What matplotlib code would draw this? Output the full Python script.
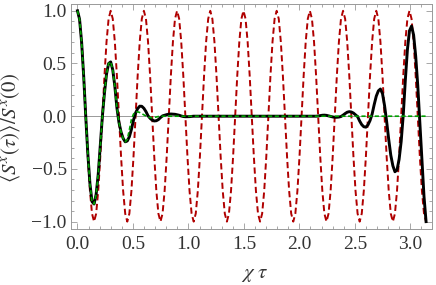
import numpy as np
import matplotlib
matplotlib.use("Agg")
import matplotlib.pyplot as plt
from matplotlib.ticker import MultipleLocator

plt.rcParams['font.family'] = ['Liberation Serif', 'DejaVu Serif']
plt.rcParams['mathtext.fontset'] = 'stix'

# sample grid: 0 .. pi, 168 steps
n_steps = 168
tau = np.linspace(0, np.pi, n_steps + 1)

# red dashed curve
red = [
    1.0, 0.924, 0.707, 0.383, 0.0, -0.383, -0.707, -0.924, -1.0, -0.924, -0.707, -0.383, 0.0, 0.383, 0.707, 0.924,
    1.0, 0.924, 0.707, 0.383, 0.0, -0.383, -0.707, -0.924, -1.0, -0.924, -0.707, -0.383, 0.0, 0.383, 0.707, 0.924,
    1.0, 0.924, 0.707, 0.383, 0.0, -0.383, -0.707, -0.924, -1.0, -0.924, -0.707, -0.383, 0.0, 0.383, 0.707, 0.924,
    1.0, 0.924, 0.707, 0.383, 0.0, -0.383, -0.707, -0.924, -1.0, -0.924, -0.707, -0.383, 0.0, 0.383, 0.707, 0.924,
    1.0, 0.924, 0.707, 0.383, 0.0, -0.383, -0.707, -0.924, -1.0, -0.924, -0.707, -0.383, 0.0, 0.383, 0.707, 0.924,
    1.0, 0.924, 0.707, 0.383, 0.0, -0.383, -0.707, -0.924, -1.0, -0.924, -0.707, -0.383, 0.0, 0.383, 0.707, 0.924,
    1.0, 0.924, 0.707, 0.383, 0.0, -0.383, -0.707, -0.924, -1.0, -0.924, -0.707, -0.383, 0.0, 0.383, 0.707, 0.924,
    1.0, 0.924, 0.707, 0.383, 0.0, -0.383, -0.707, -0.924, -1.0, -0.924, -0.707, -0.383, 0.0, 0.383, 0.707, 0.924,
    1.0, 0.924, 0.707, 0.383, 0.0, -0.383, -0.707, -0.924, -1.0, -0.924, -0.707, -0.383, 0.0, 0.383, 0.707, 0.924,
    1.0, 0.924, 0.707, 0.383, 0.0, -0.383, -0.707, -0.924, -1.0, -0.924, -0.707, -0.383, 0.0, 0.383, 0.707, 0.924,
    1.0, 0.924, 0.707, 0.383, 0.0, -0.383, -0.707, -0.924, -1.0,
]

# black solid curve
black = [
    1.0, 0.92, 0.70, 0.375, -0.01, -0.36, -0.64, -0.81, -0.833, -0.74, -0.55, -0.28,
    0.0, 0.22, 0.40, 0.50, 0.515, 0.44, 0.285, 0.08, -0.06, -0.15, -0.21, -0.243,
    -0.235, -0.195, -0.125, -0.037, 0.03, 0.072, 0.095, 0.094, 0.075, 0.044, 0.004, -0.02,
    -0.037, -0.045, -0.043, -0.032, -0.013, 0.003, 0.009, 0.015, 0.019, 0.021, 0.02, 0.018,
    0.014, 0.009, 0.002, -0.003, -0.005, -0.005, -0.004, -0.002,
    0.0, 0.0, 0.0, 0.0, 0.0, 0.0, 0.0, 0.0, 0.0, 0.0, 0.0, 0.0,
    0.0, 0.0, 0.0, 0.0, 0.0, 0.0, 0.0, 0.0, 0.0, 0.0, 0.0, 0.0,
    0.0, 0.0, 0.0, 0.0, 0.0, 0.0, 0.0, 0.0, 0.0, 0.0, 0.0, 0.0,
    0.0, 0.0, 0.0, 0.0, 0.0, 0.0, 0.0, 0.0, 0.0, 0.0, 0.0, 0.0,
    0.0, 0.0, 0.0, 0.0, 0.0, 0.0, 0.0, 0.0, 0.0, 0.0, 0.0, 0.0,
    0.002, 0.006, 0.009, 0.01, 0.008, 0.003, -0.003, -0.007, -0.01, -0.01,
    -0.008, -0.003, 0.01, 0.025, 0.038, 0.043, 0.04, 0.03, 0.013,
    -0.004, -0.046, -0.08, -0.10, -0.104, -0.083, -0.041,
    0.02, 0.11, 0.19, 0.24, 0.258, 0.215, 0.10,
    -0.05, -0.22, -0.37, -0.47, -0.527, -0.51, -0.41, -0.24,
    0.01, 0.34, 0.63, 0.81, 0.855, 0.77, 0.57, 0.29,
    -0.06, -0.42, -0.76, -1.0,
]

# green dashed curve
green = [
    1.0, 0.92, 0.70, 0.375, -0.01, -0.36, -0.64, -0.81, -0.833, -0.74, -0.55, -0.28,
    0.0, 0.22, 0.40, 0.50, 0.515, 0.44, 0.285, 0.08, -0.06, -0.15, -0.21, -0.243,
    -0.22, -0.13, -0.03, 0.02, 0.04, 0.042, 0.035, 0.024, 0.012, 0.002, -0.007, -0.013,
    -0.015, -0.012, -0.007, -0.003, 0.0,
    0.0, 0.0, 0.0, 0.0, 0.0, 0.0, 0.0, 0.0, 0.0, 0.0, 0.0, 0.0, 0.0, 0.0, 0.0, 0.0,
    0.0, 0.0, 0.0, 0.0, 0.0, 0.0, 0.0, 0.0, 0.0, 0.0, 0.0, 0.0, 0.0, 0.0, 0.0, 0.0,
    0.0, 0.0, 0.0, 0.0, 0.0, 0.0, 0.0, 0.0, 0.0, 0.0, 0.0, 0.0, 0.0, 0.0, 0.0, 0.0,
    0.0, 0.0, 0.0, 0.0, 0.0, 0.0, 0.0, 0.0, 0.0, 0.0, 0.0, 0.0, 0.0, 0.0, 0.0, 0.0,
    0.0, 0.0, 0.0, 0.0, 0.0, 0.0, 0.0, 0.0, 0.0, 0.0, 0.0, 0.0, 0.0, 0.0, 0.0, 0.0,
    0.0, 0.0, 0.0, 0.0, 0.0, 0.0, 0.0, 0.0, 0.0, 0.0, 0.0, 0.0, 0.0, 0.0, 0.0, 0.0,
    0.0, 0.0, 0.0, 0.0, 0.0, 0.0, 0.0, 0.0, 0.0, 0.0, 0.0, 0.0, 0.0, 0.0, 0.0, 0.0,
    0.0, 0.0, 0.0, 0.0, 0.0, 0.0, 0.0, 0.0, 0.0, 0.0, 0.0, 0.0, 0.0, 0.0, 0.0, 0.0,
]

fig = plt.figure(figsize=(4.36, 2.85), dpi=100)
ax = fig.add_axes([0.1628, 0.1965, 0.828, 0.7895])

ax.axhline(0, color='#999999', lw=0.7, zorder=1)

ax.plot(tau, red, color='#B00000', lw=1.4, dashes=(3.2, 1.8), zorder=2)
ax.plot(tau, black, color='black', lw=2.1, zorder=3)
ax.plot(tau, green, color='#00A000', lw=1.2, dashes=(2.5, 1.5), zorder=4)

ax.set_xlim(-0.0586, 3.195)
ax.set_ylim(-1.07, 1.0645)

ax.xaxis.set_major_locator(MultipleLocator(0.5))
ax.xaxis.set_minor_locator(MultipleLocator(0.1))
ax.yaxis.set_major_locator(MultipleLocator(0.5))
ax.yaxis.set_minor_locator(MultipleLocator(0.1))
ax.xaxis.set_major_formatter(plt.FormatStrFormatter('%.1f'))
ax.yaxis.set_major_formatter(plt.FuncFormatter(lambda v, p: ('%.1f' % v).replace('-', '\u2212')))

ax.tick_params(which='both', direction='in', top=True, right=True,
               color='#999999', width=0.6, labelsize=14, labelcolor='#333333')
ax.tick_params(which='major', length=4.5)
ax.tick_params(which='minor', length=2.5)
ax.tick_params(axis='x', pad=5)
ax.tick_params(axis='y', pad=3)
for s in ax.spines.values():
    s.set_color('#999999')
    s.set_linewidth(0.7)

ax.set_xlabel(r'$\chi\ \tau$', fontsize=15, color='#333333')
ax.set_ylabel(r'$\langle S^x(\tau)\rangle/S^x(0)$', fontsize=15, color='#333333')
ax.xaxis.set_label_coords(0.51, -0.16)
ax.yaxis.set_label_coords(-0.137, 0.45)

fig.savefig('out.png', dpi=100)
